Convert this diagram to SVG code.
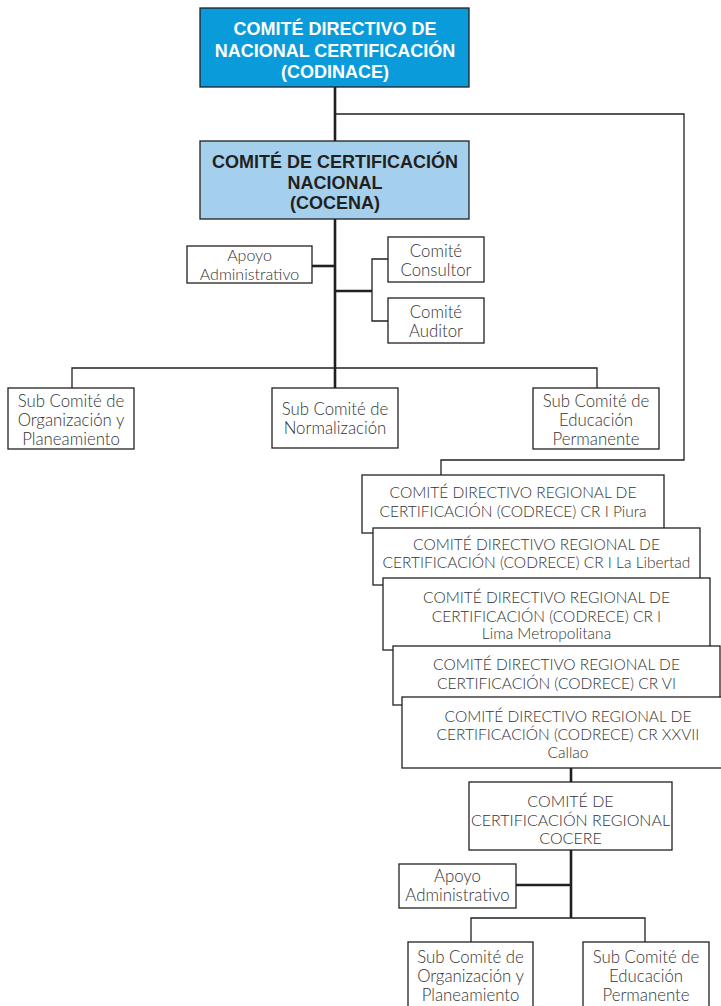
<svg xmlns="http://www.w3.org/2000/svg" width="721" height="1006" viewBox="0 0 721 1006">
<style>
.bx{fill:#fff;stroke:#231f20;stroke-width:1.3}
.top{fill:#0a9cda;stroke:#231f20;stroke-width:1.3}
.coc{fill:#a4d0ed;stroke:#231f20;stroke-width:1.3}
.tk{stroke:#231f20;stroke-width:2.6;fill:none}
.tn{stroke:#231f20;stroke-width:1.3;fill:none}
.hb{font-family:"Liberation Sans",Arial,sans-serif;font-weight:bold;font-size:18px;text-anchor:middle}
.lt{font-family:Lato,"Liberation Sans",sans-serif;font-weight:300;font-size:16.8px;fill:#333;text-anchor:middle}
.rg{font-family:Lato,"Liberation Sans",sans-serif;font-weight:300;font-size:15.5px;fill:#333;text-anchor:middle}
</style>
<g id="connectors">
<line class="tk" x1="335" y1="87" x2="335" y2="141"/>
<polyline class="tn" points="335,114 684,114 684,460 441,460 441,475"/>
<line class="tk" x1="335" y1="219" x2="335" y2="388"/>
<line class="tk" x1="312" y1="266" x2="335" y2="266"/>
<line class="tk" x1="335" y1="291" x2="372" y2="291"/>
<polyline class="tn" points="388,259 372,259 372,321 388,321"/>
<polyline class="tn" points="72,388 72,368 597,368 597,388"/>
<line class="tk" x1="571" y1="768" x2="571" y2="782"/>
<line class="tk" x1="571" y1="850" x2="571" y2="918"/>
<line class="tk" x1="516" y1="885" x2="571" y2="885"/>
<polyline class="tn" points="471,942 471,918 645,918 645,942"/>
</g>
<g id="codinace">
<rect class="top" x="200" y="8" width="269" height="79"/>
<text class="hb" fill="#fff"><tspan x="335" y="35">COMITÉ DIRECTIVO DE</tspan><tspan x="335" y="57">NACIONAL CERTIFICACIÓN</tspan><tspan x="335" y="78">(CODINACE)</tspan></text>
</g>
<g id="cocena">
<rect class="coc" x="200" y="141" width="269" height="78"/>
<text class="hb" fill="#231f20"><tspan x="335" y="168">COMITÉ DE CERTIFICACIÓN</tspan><tspan x="335" y="189">NACIONAL</tspan><tspan x="335" y="209">(COCENA)</tspan></text>
</g>
<g id="apoyo1">
<rect class="bx" x="187" y="246" width="125" height="37"/>
<text class="lt" style="font-size:16px"><tspan x="249.5" y="261">Apoyo</tspan><tspan x="249.5" y="279.5">Administrativo</tspan></text>
</g>
<g id="consultor">
<rect class="bx" x="388" y="237" width="96" height="45"/>
<text class="lt"><tspan x="436" y="257">Comité</tspan><tspan x="436" y="276">Consultor</tspan></text>
</g>
<g id="auditor">
<rect class="bx" x="388" y="298" width="96" height="45"/>
<text class="lt"><tspan x="436" y="318">Comité</tspan><tspan x="436" y="337">Auditor</tspan></text>
</g>
<g id="sub-org">
<rect class="bx" x="8" y="388" width="126" height="61"/>
<text class="lt"><tspan x="71" y="407">Sub Comité de</tspan><tspan x="71" y="426">Organización y</tspan><tspan x="71" y="445">Planeamiento</tspan></text>
</g>
<g id="sub-norm">
<rect class="bx" x="272" y="388" width="126" height="60"/>
<text class="lt"><tspan x="335" y="415">Sub Comité de</tspan><tspan x="335" y="434">Normalización</tspan></text>
</g>
<g id="sub-edu">
<rect class="bx" x="533" y="388" width="126" height="61"/>
<text class="lt"><tspan x="596" y="407">Sub Comité de</tspan><tspan x="596" y="426">Educación</tspan><tspan x="596" y="445">Permanente</tspan></text>
</g>
<g id="codrece-piura">
<rect class="bx" x="362" y="475" width="302" height="58"/>
<text class="rg"><tspan x="513" y="498">COMITÉ DIRECTIVO REGIONAL DE</tspan><tspan x="513" y="517">CERTIFICACIÓN (CODRECE) CR I Piura</tspan></text>
</g>
<g id="codrece-libertad">
<rect class="bx" x="373" y="528" width="327" height="57"/>
<text class="rg"><tspan x="536.5" y="550">COMITÉ DIRECTIVO REGIONAL DE</tspan><tspan x="536.5" y="568">CERTIFICACIÓN (CODRECE) CR I La Libertad</tspan></text>
</g>
<g id="codrece-lima">
<rect class="bx" x="383" y="578" width="327" height="72"/>
<text class="rg"><tspan x="546.5" y="603">COMITÉ DIRECTIVO REGIONAL DE</tspan><tspan x="546.5" y="622">CERTIFICACIÓN (CODRECE) CR I</tspan><tspan x="546.5" y="639">Lima Metropolitana</tspan></text>
</g>
<g id="codrece-vi">
<rect class="bx" x="393" y="646" width="327" height="59"/>
<text class="rg"><tspan x="556.5" y="670">COMITÉ DIRECTIVO REGIONAL DE</tspan><tspan x="556.5" y="689">CERTIFICACIÓN (CODRECE) CR VI</tspan></text>
</g>
<g id="codrece-callao">
<rect class="bx" x="402" y="697" width="333" height="71"/>
<text class="rg"><tspan x="568" y="722">COMITÉ DIRECTIVO REGIONAL DE</tspan><tspan x="568" y="740">CERTIFICACIÓN (CODRECE) CR XXVII</tspan><tspan x="568" y="758">Callao</tspan></text>
</g>
<g id="cocere">
<rect class="bx" x="469" y="782" width="203" height="68"/>
<text class="rg" style="font-size:16px"><tspan x="570.5" y="807">COMITÉ DE</tspan><tspan x="570.5" y="826">CERTIFICACIÓN REGIONAL</tspan><tspan x="570.5" y="844">COCERE</tspan></text>
</g>
<g id="apoyo2">
<rect class="bx" x="399" y="864" width="117" height="44"/>
<text class="lt"><tspan x="457.5" y="882">Apoyo</tspan><tspan x="457.5" y="901">Administrativo</tspan></text>
</g>
<g id="sub-org-reg">
<rect class="bx" x="408" y="942" width="125" height="70"/>
<text class="lt"><tspan x="470.5" y="963">Sub Comité de</tspan><tspan x="470.5" y="982">Organización y</tspan><tspan x="470.5" y="1001">Planeamiento</tspan></text>
</g>
<g id="sub-edu-reg">
<rect class="bx" x="583" y="942" width="126" height="70"/>
<text class="lt"><tspan x="646" y="963">Sub Comité de</tspan><tspan x="646" y="982">Educación</tspan><tspan x="646" y="1001">Permanente</tspan></text>
</g>
</svg>
